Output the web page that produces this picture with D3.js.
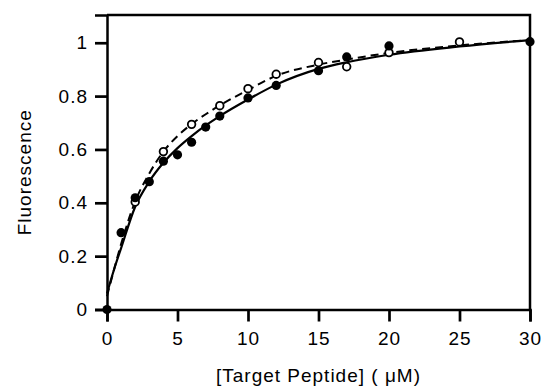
<!DOCTYPE html>
<html>
<head>
<meta charset="utf-8">
<script src="https://cdn.jsdelivr.net/npm/d3@7"></script>
<style>
  body { margin: 0; background: #fff; }
  text { font-family: "Liberation Sans", Arial, sans-serif; fill: #000; letter-spacing: 1px; }
</style>
</head>
<body>
<div id="chart"></div>
<script>
// peptide concentration (uM) and fluorescence, filled circles
var filledX = [0, 1, 2, 3, 4, 5, 6, 7, 8, 10, 12, 15, 17, 20, 30];
var filledY = [0, 0.288, 0.419, 0.479, 0.556, 0.580, 0.627, 0.684, 0.725, 0.793, 0.840, 0.895, 0.947, 0.988, 1.004];

// open circles
var openX = [2, 4, 6, 8, 10, 12, 15, 17, 20, 25];
var openY = [0.403, 0.592, 0.694, 0.764, 0.828, 0.882, 0.926, 0.910, 0.963, 1.003];

// fitted curves
var fitX      = [0, 0.5, 1, 2, 3, 4, 5, 6, 7, 8, 10, 12, 15, 17, 20, 25, 30];
var fitSolid  = [0.06, 0.15, 0.23, 0.385, 0.48, 0.55, 0.605, 0.65, 0.69, 0.725, 0.787, 0.843, 0.902, 0.927, 0.955, 0.986, 1.01];
var fitDashed = [0.05, 0.15, 0.245, 0.405, 0.51, 0.592, 0.65, 0.695, 0.732, 0.765, 0.823, 0.876, 0.918, 0.937, 0.962, 0.99, 1.01];

var xTicks = [0, 5, 10, 15, 20, 25, 30];
var yTicks = [0, 0.2, 0.4, 0.6, 0.8, 1];

var margin = {top: 15, right: 13, bottom: 76.5, left: 107};
var width = 543 - margin.left - margin.right,
    height = 386 - margin.top - margin.bottom;

var svg = d3.select("#chart").append("svg")
    .attr("width", 543)
    .attr("height", 386)
  .append("g")
    .attr("transform", "translate(" + margin.left + "," + margin.top + ")");

var x = d3.scaleLinear().domain([0, 30]).range([0, width]);
var y = d3.scaleLinear().domain([0, 1.104]).range([height, 0]);

// frame
svg.append("path")
    .attr("d", "M0,0H" + width + "V" + height)
    .attr("fill", "none")
    .attr("stroke", "#000")
    .attr("stroke-width", 2.5);

var xAxis = d3.axisBottom(x).tickValues(xTicks).tickSize(12).tickPadding(10)
    .tickFormat(d3.format("d"));
var yAxis = d3.axisLeft(y).tickValues(yTicks).tickSize(12).tickPadding(7)
    .tickFormat(function(d) { return d === 0 || d === 1 ? d : d3.format(".1f")(d); });

var gx = svg.append("g")
    .attr("transform", "translate(0," + height + ")")
    .call(xAxis);
var gy = svg.append("g").call(yAxis);

[gx, gy].forEach(function(g) {
  g.select(".domain").attr("stroke-width", 2.5);
  g.selectAll(".tick line").attr("stroke-width", 2.7);
  g.selectAll(".tick text")
      .style("font-size", "19px")
      .style("font-family", "'Liberation Sans', Arial, sans-serif")
      .attr("fill", "#000");
});

// curves
var line = d3.line().curve(d3.curveMonotoneX);

svg.append("path")
    .attr("d", line(fitX.map(function(d, i) { return [x(d), y(fitDashed[i])]; })))
    .attr("fill", "none")
    .attr("stroke", "#000")
    .attr("stroke-width", 2)
    .attr("stroke-dasharray", "8,5");

svg.append("path")
    .attr("d", line(fitX.map(function(d, i) { return [x(d), y(fitSolid[i])]; })))
    .attr("fill", "none")
    .attr("stroke", "#000")
    .attr("stroke-width", 2.2);

// points
svg.selectAll(".open")
    .data(openX)
  .enter().append("circle")
    .attr("class", "open")
    .attr("cx", function(d) { return x(d); })
    .attr("cy", function(d, i) { return y(openY[i]); })
    .attr("r", 3.8)
    .attr("fill", "#fff")
    .attr("stroke", "#000")
    .attr("stroke-width", 1.8);

svg.selectAll(".filled")
    .data(filledX)
  .enter().append("circle")
    .attr("class", "filled")
    .attr("cx", function(d) { return x(d); })
    .attr("cy", function(d, i) { return y(filledY[i]); })
    .attr("r", 4.6)
    .attr("fill", "#000");

// axis titles
svg.append("text")
    .attr("x", width / 2)
    .attr("y", height + 72)
    .attr("text-anchor", "middle")
    .style("font-size", "19px")
    .text("[Target Peptide] ( \u03bcM)");

svg.append("text")
    .attr("transform", "translate(" + (31 - margin.left) + "," + (height / 2 + 10) + ") rotate(-90)")
    .attr("text-anchor", "middle")
    .style("font-size", "19px")
    .text("Fluorescence");
</script>
</body>
</html>
